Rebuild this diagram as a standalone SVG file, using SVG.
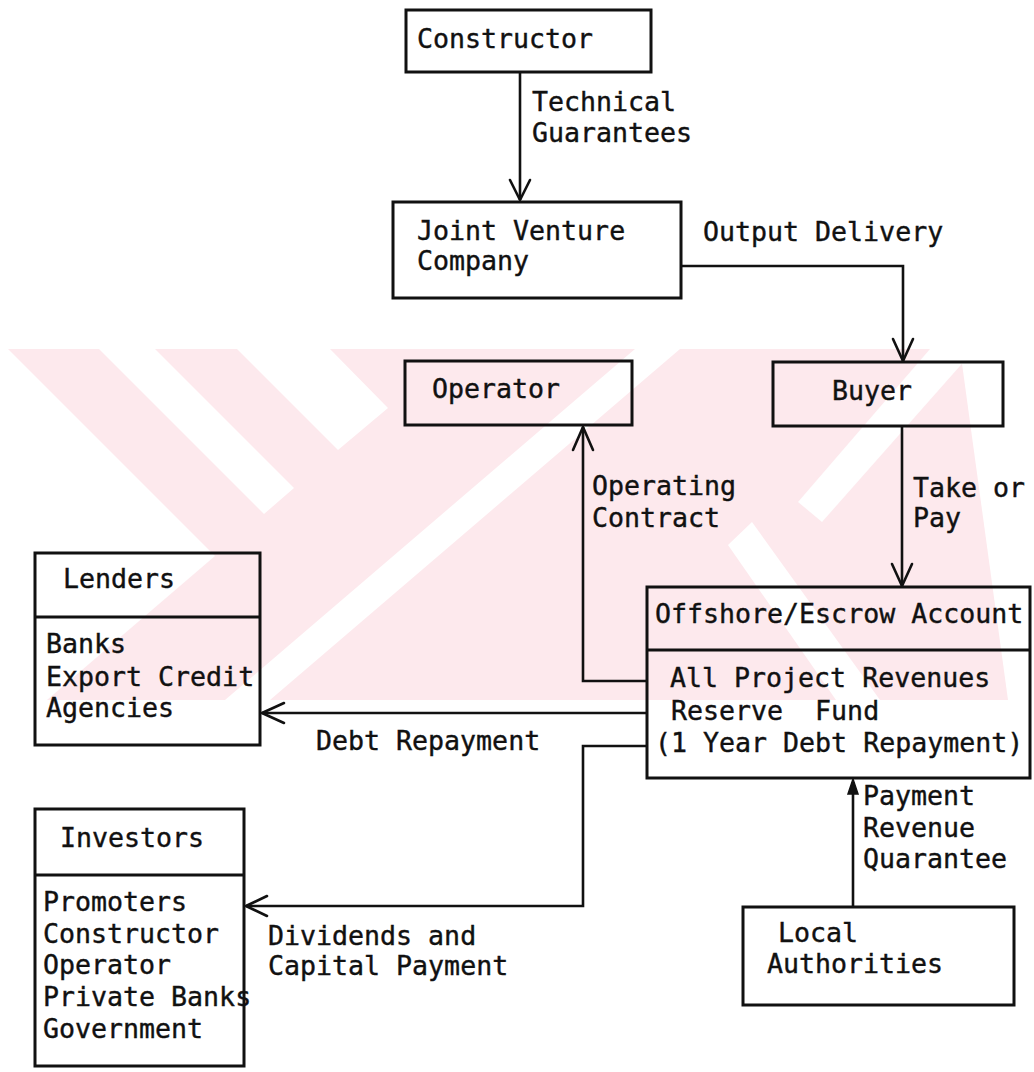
<svg xmlns="http://www.w3.org/2000/svg" width="1034" height="1072" viewBox="0 0 1034 1072">
  <defs>
    <style>
      .box { fill: none; stroke: #111; stroke-width: 3; }
      .line { fill: none; stroke: #111; stroke-width: 2.6; stroke-linejoin: miter; }
      .head { fill: none; stroke: #111; stroke-width: 2.6; stroke-linecap: round; stroke-linejoin: round; }
      .solid { fill: #111; stroke: #111; stroke-width: 1.5; }
      text { font-family: "DejaVu Sans Mono", "Liberation Mono", monospace; font-size: 26.6px; fill: #111; stroke: #111; stroke-width: 0.4; }
      .wm { fill: #fde9ed; }
      .gap { fill: #ffffff; }
    </style>
  </defs>

  <rect width="1034" height="1072" fill="#ffffff"/>

  <!-- pale background emblem: a tinted band with diagonal white cuts -->
  <g id="emblem">
    <polygon class="wm" points="8,349 960,349 1008,700 15,700"/>
    <!-- lower-left clear area -->
    <polygon class="gap" points="0,349 8,349 215,556 47,700 0,700"/>
    <!-- upper-left diagonal cuts -->
    <polygon class="gap" points="99,349 155,349 294,488 264,514"/>
    <polygon class="gap" points="237,349 330,349 388,408 338,450"/>
    <!-- long rising cut -->
    <polygon class="gap" points="225,700 270,700 680,349 635,349"/>
    <!-- right-hand arms -->
    <polygon class="gap" points="728,545 752,522 880,700 836,700"/>
    <polygon class="gap" points="798,502 822,522 975,349 930,349"/>
  </g>

  <!-- connectors -->
  <g id="connectors">
    <!-- Constructor -> Joint Venture -->
    <line class="line" x1="520" y1="72" x2="520" y2="200"/>
    <polyline class="head" points="510,180 520,200 530,180"/>
    <!-- Joint Venture -> Buyer -->
    <polyline class="line" points="681,266 903,266 903,361"/>
    <polyline class="head" points="893,339 903,361 913,339"/>
    <!-- Buyer -> Offshore account -->
    <line class="line" x1="902" y1="426" x2="902" y2="586"/>
    <polyline class="head" points="892,564 902,586 912,564"/>
    <!-- Offshore account -> Operator -->
    <polyline class="line" points="647,681 583,681 583,427"/>
    <polyline class="head" points="573,450 583,427 593,450"/>
    <!-- Offshore account -> Lenders -->
    <line class="line" x1="647" y1="713" x2="262" y2="713"/>
    <polyline class="head" points="284,703 262,713 284,723"/>
    <!-- Offshore account -> Investors -->
    <polyline class="line" points="647,746 583,746 583,906 246,906"/>
    <polyline class="head" points="267,896 246,906 267,916"/>
    <!-- Local Authorities -> Offshore account -->
    <line class="line" x1="853" y1="907" x2="853" y2="782"/>
    <polygon class="solid" points="848,794 853,779 858,794"/>
  </g>

  <!-- connector labels -->
  <g id="labels">
    <text x="532" y="111">Technical</text>
    <text x="532" y="142">Guarantees</text>
    <text x="703" y="241">Output Delivery</text>
    <text x="592" y="495">Operating</text>
    <text x="592" y="527">Contract</text>
    <text x="913" y="497">Take or</text>
    <text x="913" y="527">Pay</text>
    <text x="316" y="750">Debt Repayment</text>
    <text x="268" y="945">Dividends and</text>
    <text x="268" y="975">Capital Payment</text>
    <text x="863" y="805">Payment</text>
    <text x="863" y="837">Revenue</text>
    <text x="863" y="868">Quarantee</text>
  </g>

  <g id="constructor">
    <rect class="box" x="406" y="10" width="245" height="62"/>
    <text x="417" y="48">Constructor</text>
  </g>

  <g id="joint-venture">
    <rect class="box" x="393" y="202" width="288" height="96"/>
    <text x="417" y="240">Joint Venture</text>
    <text x="417" y="270">Company</text>
  </g>

  <g id="operator">
    <rect class="box" x="405" y="361" width="227" height="64"/>
    <text x="432" y="398">Operator</text>
  </g>

  <g id="buyer">
    <rect class="box" x="773" y="362" width="230" height="64"/>
    <text x="832" y="400">Buyer</text>
  </g>

  <g id="offshore-account">
    <rect class="box" x="647" y="587" width="383" height="191"/>
    <line class="box" x1="647" y1="650" x2="1030" y2="650"/>
    <text x="655" y="623">Offshore/Escrow Account</text>
    <text x="670" y="687">All Project Revenues</text>
    <text x="671" y="720" xml:space="preserve">Reserve  Fund</text>
    <text x="655" y="752">(1 Year Debt Repayment)</text>
  </g>

  <g id="lenders">
    <rect class="box" x="35" y="553" width="225" height="192"/>
    <line class="box" x1="35" y1="617" x2="260" y2="617"/>
    <text x="63" y="588">Lenders</text>
    <text x="46" y="653">Banks</text>
    <text x="46" y="686">Export Credit</text>
    <text x="46" y="717">Agencies</text>
  </g>

  <g id="investors">
    <rect class="box" x="35" y="809" width="209" height="257"/>
    <line class="box" x1="35" y1="875" x2="244" y2="875"/>
    <text x="60" y="847">Investors</text>
    <text x="43" y="911">Promoters</text>
    <text x="43" y="943">Constructor</text>
    <text x="43" y="974">Operator</text>
    <text x="43" y="1006">Private Banks</text>
    <text x="43" y="1038">Government</text>
  </g>

  <g id="local-authorities">
    <rect class="box" x="743" y="907" width="271" height="98"/>
    <text x="778" y="942">Local</text>
    <text x="767" y="973">Authorities</text>
  </g>
</svg>
